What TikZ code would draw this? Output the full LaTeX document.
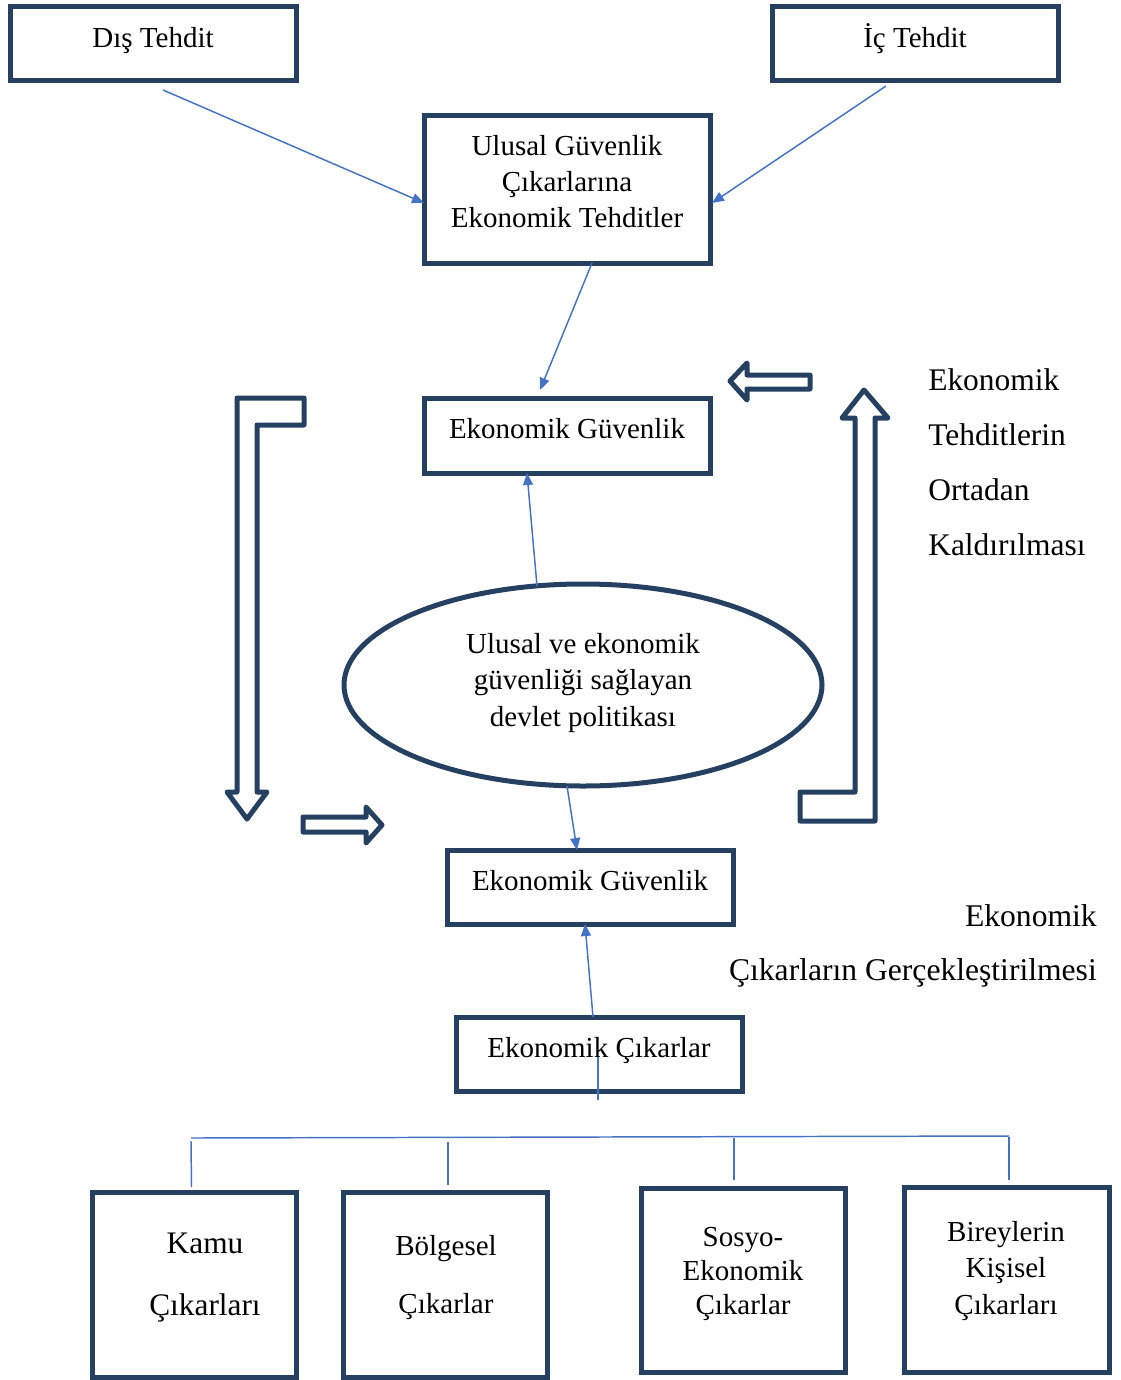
\documentclass[tikz,border=0pt]{standalone}
\usepackage{fontspec}
\setmainfont{Liberation Serif}
\usetikzlibrary{shapes.geometric,arrows.meta,calc}
\definecolor{navy}{HTML}{254061}
\definecolor{lblue}{HTML}{4472C4}
\begin{document}
\begin{tikzpicture}[x=0.75pt,y=-0.75pt,
  box/.style={draw=navy,line width=3.75pt,rectangle,minimum width=214.5pt,minimum height=55.5pt,outer sep=0pt,inner sep=0pt},
  smallbox/.style={box,minimum width=153pt,minimum height=138.75pt},
  txt/.style={font=\fontsize{21.75}{27}\selectfont,align=center,anchor=base,inner sep=0pt},
  conn/.style={draw=lblue,line width=1.1pt,-{Triangle[length=9pt,width=7.5pt]}},
  plainline/.style={draw=lblue,line width=1.1pt},
  blockarrow/.style={draw=navy,line width=3.75pt,fill=white,line join=round}
]
\useasboundingbox (0,0) rectangle (1120,1380);

% boxes
\node[box] (dis) at (153,44) {};
\node[box] (ic) at (915,44) {};
\node[box,minimum height=110.25pt] (ulusal) at (567,189.5) {};
\node[box,minimum height=56.25pt] (eg1) at (567,435.5) {};
\node[draw=navy,line width=3.75pt,ellipse,minimum width=358.5pt,minimum height=151.5pt,outer sep=0pt,inner sep=0pt] (ell) at (583,685) {};
\node[box] (eg2) at (590,887) {};
\node[box] (ec) at (599,1054) {};
\node[smallbox] (kamu) at (194,1284.5) {};
\node[smallbox] (bolg) at (445,1284.5) {};
\node[smallbox,minimum height=138pt] (sosyo) at (743,1280) {};
\node[smallbox,minimum width=153.75pt] (birey) at (1006.5,1279.5) {};

% texts (multi-line nodes: base = last line's baseline)
\node[txt] (tdis) at (153,48) {Dış Tehdit};
\node[txt] (tic) at (915,48) {İç Tehdit};
\node[txt] (tulusal) at (567,227.5) {Ulusal Güvenlik\\Çıkarlarına\\Ekonomik Tehditler};
\node[txt] (teg1) at (567,438.5) {Ekonomik Güvenlik};
\node[txt,font=\fontsize{21.75}{27.4}\selectfont] (tell) at (583,726.5) {Ulusal ve ekonomik\\güvenliği sağlayan\\devlet politikası};
\node[txt] (teg2) at (590,890.5) {Ekonomik Güvenlik};
\node[txt] (tec) at (599,1057.5) {Ekonomik Çıkarlar};
\node[txt,font=\fontsize{23.5}{46.5}\selectfont] (tkamu) at (205,1315) {Kamu\\Çıkarları};
\node[txt,font=\fontsize{21.75}{43.5}\selectfont] (tbolg) at (446,1313.5) {Bölgesel\\Çıkarlar};
\node[txt,font=\fontsize{21.75}{25.5}\selectfont] (tsosyo) at (743,1314.5) {Sosyo-\\Ekonomik\\Çıkarlar};
\node[txt,font=\fontsize{21.75}{27.4}\selectfont] (tbirey) at (1006,1314.5) {Bireylerin\\Kişisel\\Çıkarları};
\node[txt,font=\fontsize{23.6}{41.25}\selectfont,align=left,anchor=base west] (tright) at (928,555) {Ekonomik\\Tehditlerin\\Ortadan\\Kaldırılması};
\node[txt,font=\fontsize{23.7}{40.5}\selectfont,align=right,anchor=base east] (tright2) at (1097,980) {Ekonomik\\Çıkarların Gerçekleştirilmesi};

% connectors
\draw[conn] ($(dis.south)+(10,9)$) -- ($(ulusal.west)+(0,13.5)$);
\draw[conn] ($(ic.south)+(-29,5)$) -- ($(ulusal.east)+(2,13.5)$);
\draw[conn] ($(ulusal.south)+(25,0)$) -- ($(eg1.north)+(-27,-8)$);
\draw[conn] ($(ell.north)+(-46,2)$) -- ($(eg1.south)+(-40,0)$);
\draw[conn] ($(ell.south)+(-16,0)$) -- ($(eg2.north)+(-13,0)$);
\draw[conn] ($(ec.north)+(-6,0)$) -- ($(eg2.south)+(-5,0)$);

\coordinate (ecend) at (598,1100);
\draw[plainline] ($(ec.center)+(-1,3)$) -- (ecend);
\coordinate (barL) at (191,1138);
\coordinate (barR) at (1009,1136);
\draw[plainline] (barL) -- (barR);
\coordinate (v1) at (191,1141);
\coordinate (v2) at (448,1142);
\coordinate (v3) at (734,1137.5);
\coordinate (v4) at (1009,1136.5);
\draw[plainline] (v1) -- ($(kamu.north)+(-2.5,-5)$);
\draw[plainline] (v2) -- ($(bolg.north)+(3,-7)$);
\draw[plainline] (v3) -- ($(sosyo.north)+(-9,-8)$);
\draw[plainline] (v4) -- ($(birey.north)+(2.5,-7)$);

% block arrows
\draw[blockarrow] (304,398) -- (237,398) -- (237,792) -- (227,792) -- (247,819) -- (267,792) -- (257,792) -- (257,425) -- (304,425) -- cycle;
\draw[blockarrow] (303,817) -- (366,817) -- (366,807) -- (382,825) -- (366,843) -- (366,832) -- (303,832) -- cycle;
\draw[blockarrow] (810,375) -- (747,375) -- (747,363) -- (730,381) -- (747,400) -- (747,389) -- (810,389) -- cycle;
\draw[blockarrow] (875,821) -- (800,821) -- (800,792) -- (855,792) -- (855,418) -- (842,418) -- (864,390) -- (888,418) -- (875,418) -- cycle;
\end{tikzpicture}
\end{document}
